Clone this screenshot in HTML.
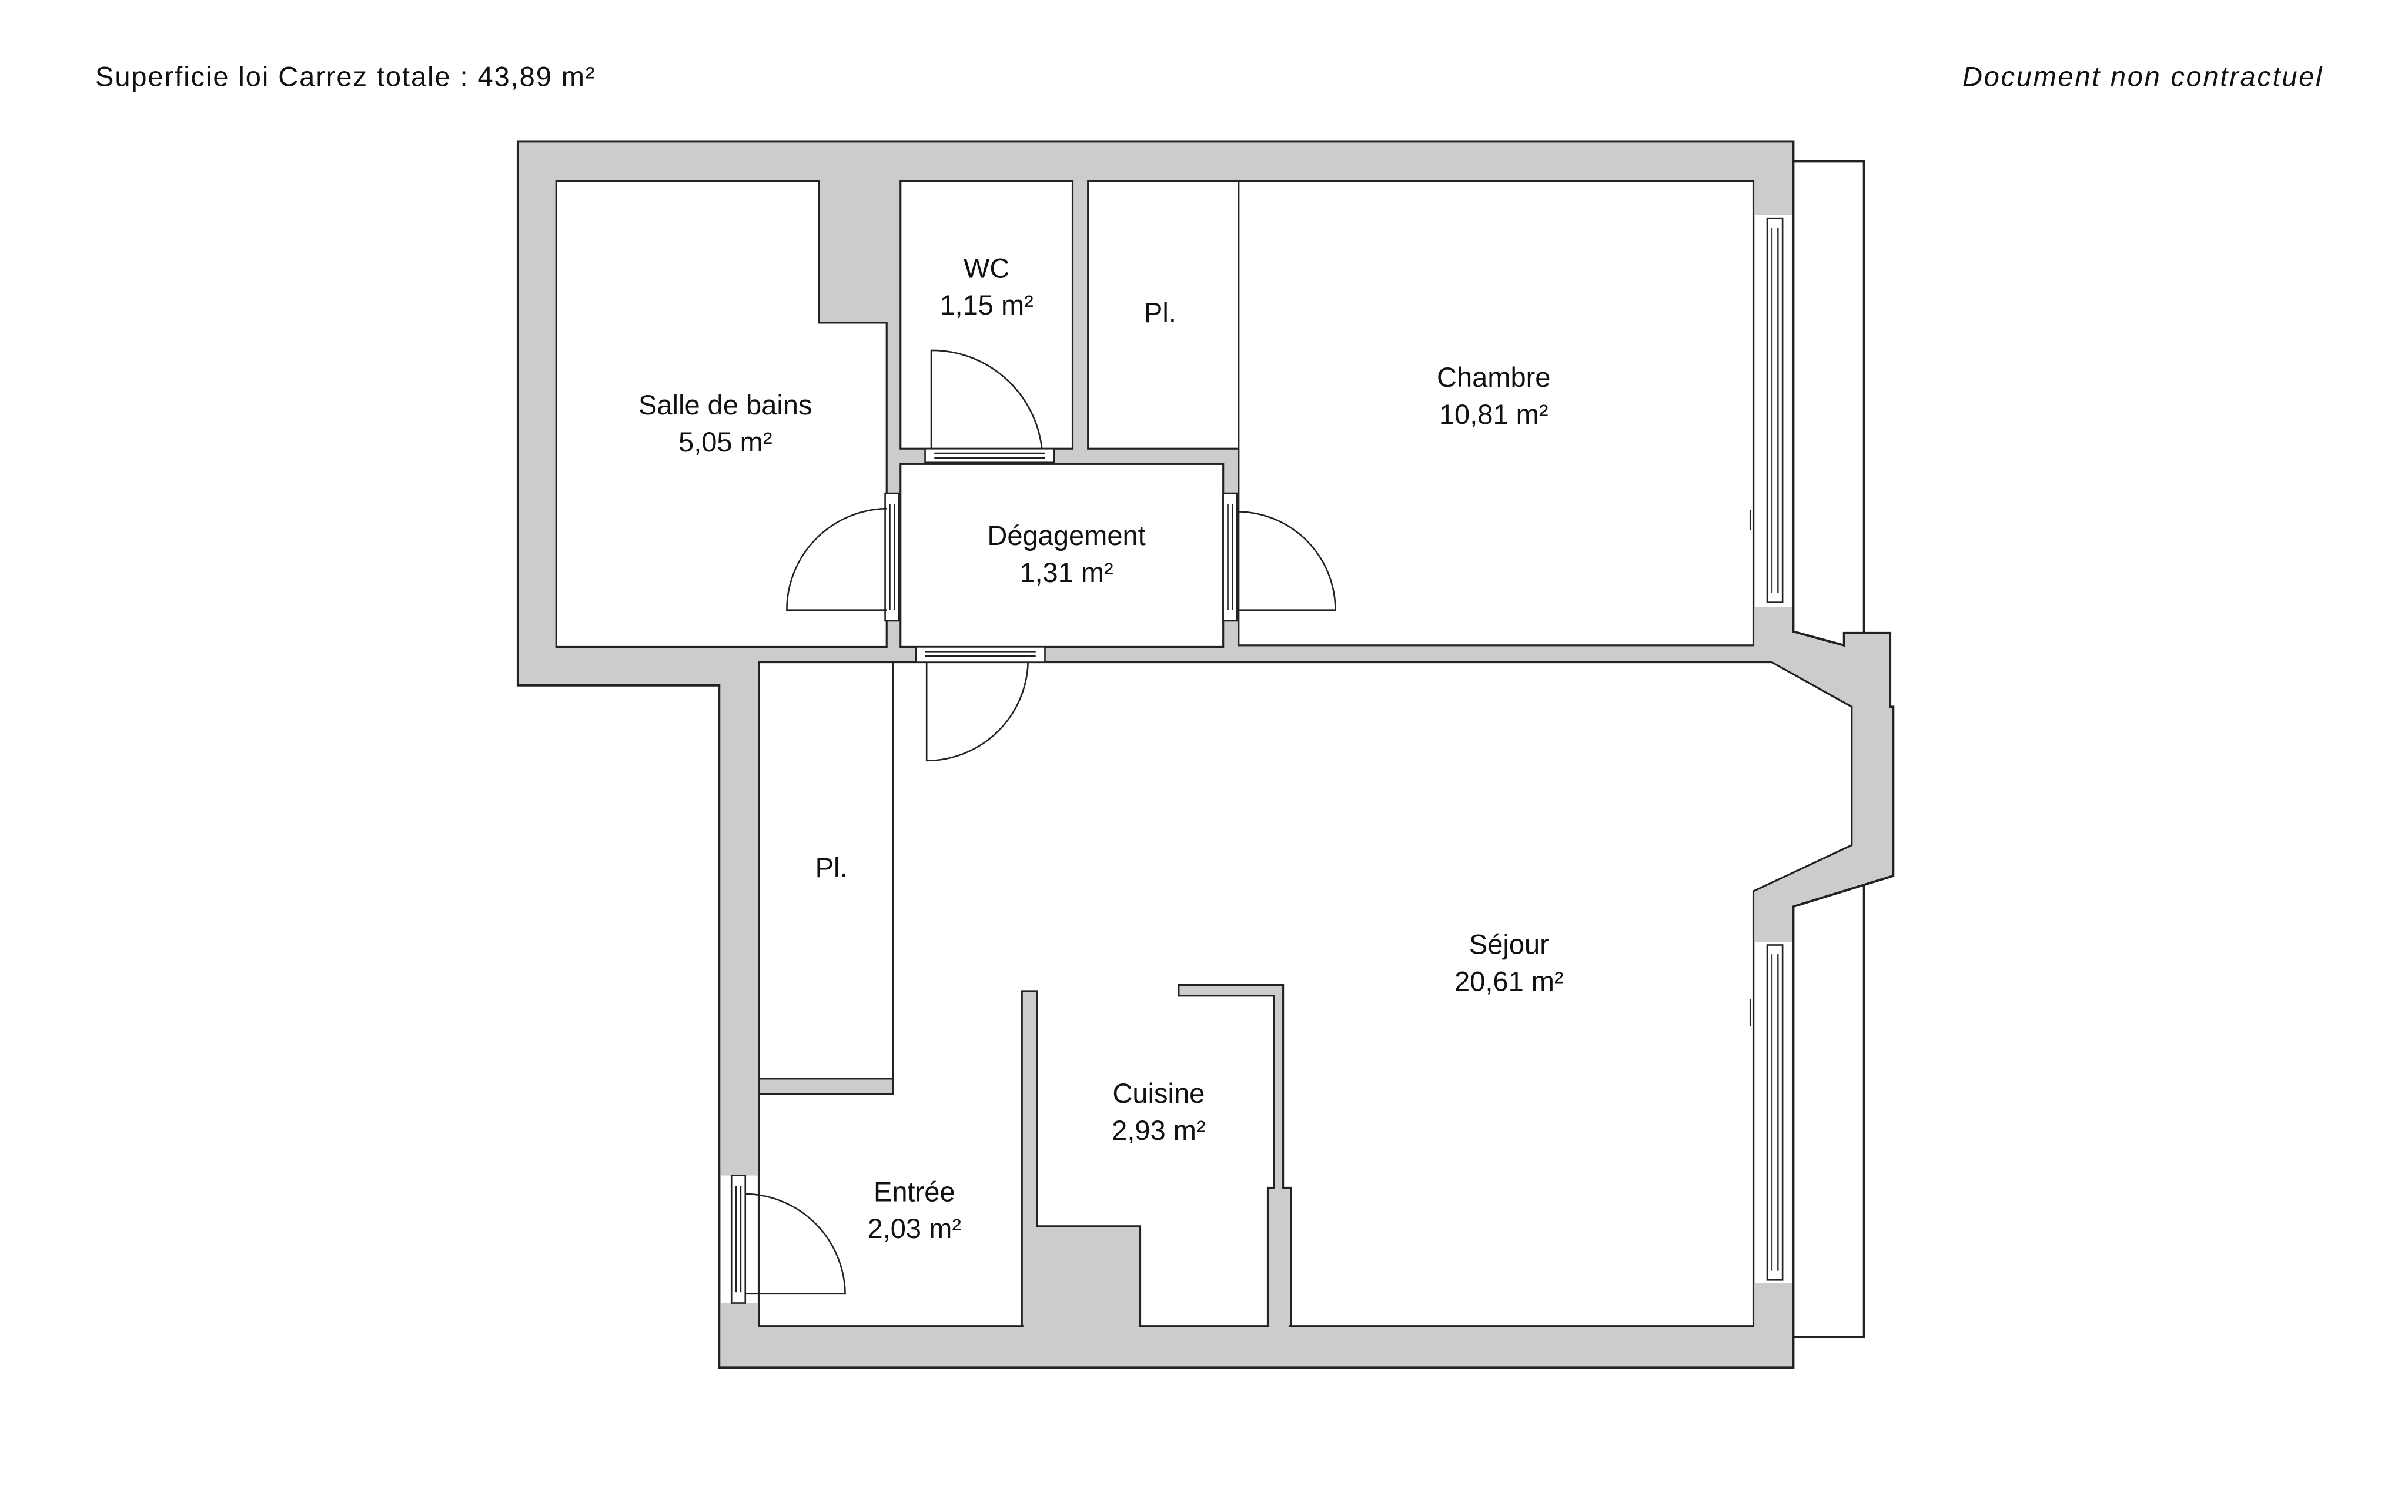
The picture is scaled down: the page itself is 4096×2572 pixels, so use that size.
<!DOCTYPE html>
<html><head><meta charset="utf-8"><style>
html,body{margin:0;padding:0;background:#fff;}
svg{display:block;}
text{font-family:"Liberation Sans",sans-serif;font-size:18px;fill:#111;}
</style></head><body>
<svg width="4096" height="2572" viewBox="0 0 1567 984" preserveAspectRatio="none" xmlns="http://www.w3.org/2000/svg">
<rect x="0" y="0" width="1567" height="984" fill="#fff"/>
<text x="62" y="56" textLength="325" lengthAdjust="spacing">Superficie loi Carrez totale :  43,89 m²</text>
<text x="1511" y="56" text-anchor="end" font-style="italic" textLength="234" lengthAdjust="spacing">Document non contractuel</text>

<polyline points="1167,105 1213,105 1213,870 1167,870" fill="none" stroke="#222" stroke-width="1.5"/>

<polygon points="337,92 1167,92 1167,411 1200,420 1200,412 1230,412 1230,460 1232,460 1232,570 1167,590 1167,890 468,890 468,446 337,446" fill="#ccc" stroke="#222" stroke-width="1.5"/>

<g fill="#fff" stroke="#222" stroke-width="1.2">
<polygon points="362,118 533,118 533,210 577,210 577,421 362,421"/>
<rect x="586" y="118" width="112" height="174"/>
<rect x="708" y="118" width="98" height="174"/>
<rect x="806" y="118" width="335" height="302"/>
<rect x="586" y="302" width="210" height="119"/>
<polygon points="494,431 1153,431 1205,460 1205,550 1141,580 1141,863 494,863"/>
<rect x="494" y="431" width="87" height="271"/>
</g>

<g fill="#ccc" stroke="#222" stroke-width="1.2">
<rect x="494" y="702" width="87" height="10"/>
<polygon points="665,645 675,645 675,798 742,798 742,863 665,863"/>
<polygon points="767,641 835,641 835,773 840,773 840,863 825,863 825,773 829,773 829,648 767,648"/>
</g>
<rect x="666" y="862" width="75" height="3" fill="#ccc"/>
<rect x="826" y="862" width="13" height="3" fill="#ccc"/>

<g>
<rect x="1142" y="140" width="24" height="255" fill="#fff"/>
<rect x="1142" y="613" width="24" height="222" fill="#fff"/>
<rect x="1150" y="142" width="10" height="250" fill="#fff" stroke="#222" stroke-width="1"/>
<line x1="1153" y1="148" x2="1153" y2="386" stroke="#444" stroke-width="1"/>
<line x1="1157" y1="148" x2="1157" y2="386" stroke="#444" stroke-width="1"/>
<rect x="1150" y="615" width="10" height="218" fill="#fff" stroke="#222" stroke-width="1"/>
<line x1="1153" y1="621" x2="1153" y2="827" stroke="#444" stroke-width="1"/>
<line x1="1157" y1="621" x2="1157" y2="827" stroke="#444" stroke-width="1"/>
<line x1="1139" y1="332" x2="1139" y2="345" stroke="#222" stroke-width="1"/>
<line x1="1139" y1="650" x2="1139" y2="668" stroke="#222" stroke-width="1"/>
</g>

<rect x="469" y="765" width="24" height="83" fill="#fff"/>

<g fill="#fff" stroke="#222" stroke-width="1">
<rect x="602" y="292" width="84" height="9"/>
<line x1="608" y1="295" x2="680" y2="295"/><line x1="608" y1="298" x2="680" y2="298"/>
<rect x="596" y="421" width="84" height="10"/>
<line x1="602" y1="424" x2="674" y2="424"/><line x1="602" y1="427" x2="674" y2="427"/>
<rect x="576" y="321" width="9" height="83"/>
<line x1="579" y1="328" x2="579" y2="397"/><line x1="582" y1="328" x2="582" y2="397"/>
<rect x="796" y="321" width="9" height="83"/>
<line x1="799" y1="328" x2="799" y2="397"/><line x1="802" y1="328" x2="802" y2="397"/>
<rect x="476" y="765" width="9" height="83"/>
<line x1="479" y1="772" x2="479" y2="841"/><line x1="482" y1="772" x2="482" y2="841"/>
</g>

<g fill="none" stroke="#222" stroke-width="1">
<path d="M606,292 L606,228 A72,72 0 0 1 678,292"/>
<path d="M577,397 L512,397 A66,66 0 0 1 577,331"/>
<path d="M805,397 L869,397 A64,64 0 0 0 805,333"/>
<path d="M603,431 L603,495 A66,66 0 0 0 669,431"/>
<path d="M485,842 L550,842 A66,66 0 0 0 485,777"/>
</g>

<g text-anchor="middle" dominant-baseline="middle">
<text x="472" y="265">Salle de bains</text><text x="472" y="289">5,05 m²</text>
<text x="642" y="176">WC</text><text x="642" y="200">1,15 m²</text>
<text x="755" y="205">Pl.</text>
<text x="972" y="247">Chambre</text><text x="972" y="271">10,81 m²</text>
<text x="694" y="350">Dégagement</text><text x="694" y="374">1,31 m²</text>
<text x="541" y="566">Pl.</text>
<text x="982" y="616">Séjour</text><text x="982" y="640">20,61 m²</text>
<text x="754" y="713">Cuisine</text><text x="754" y="737">2,93 m²</text>
<text x="595" y="777">Entrée</text><text x="595" y="801">2,03 m²</text>
</g>
</svg>
</body></html>
